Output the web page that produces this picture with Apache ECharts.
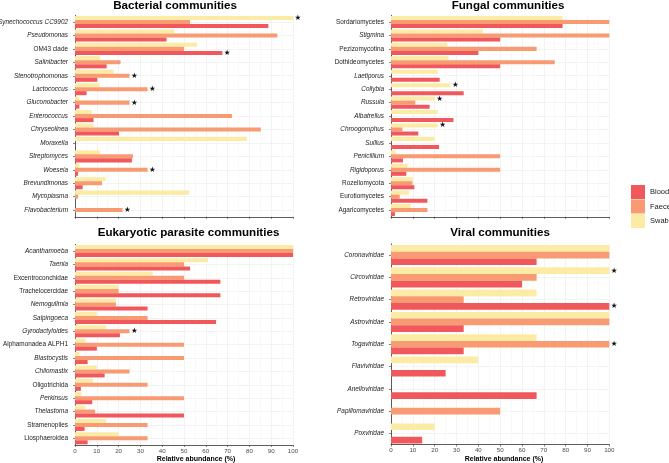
<!DOCTYPE html>
<html><head><meta charset="utf-8">
<script src="https://cdn.jsdelivr.net/npm/echarts@6/dist/echarts.min.js"></script>
<style>html,body{margin:0;padding:0;background:#fff}#c{width:669px;height:463px}</style>
</head><body><div id="c"></div>
<script>
// ---------- DATA ----------
const seriesNames = ['Swab', 'Faeces', 'Blood'];
const legendOrder = ['Blood', 'Faeces', 'Swab'];
const xTicks = [0, 10, 20, 30, 40, 50, 60, 70, 80, 90, 100];

const bacCats = ['Synechococcus CC9902','Pseudomonas','OM43 clade','Salinibacter','Stenotrophomonas','Lactococcus','Gluconobacter','Enterococcus','Chryseolinea','Moraxella','Streptomyces','Woeseia','Brevundimonas','Mycoplasma','Flavobacterium'];
const bacBlood  = [88.7, 42, 67.6, 14.5, 10.2, 5.3, 2, 8.5, 20.2, null, 26.1, 1.4, 3.5, null, null];
const bacFaeces = [52.8, 92.8, 50, 20.9, 25, 33.3, 25, 72, 85.2, null, 26.6, 33.3, 12.4, 1.4, 21.8];
const bacSwab   = [100, 45.5, 56, 11.5, 17.7, 11.3, 2, 7.6, 8.5, 78.8, 11.5, 2, 14, 52.4, null];
const bacStarsBlood  = ['OM43 clade'];
const bacStarsFaeces = ['Stenotrophomonas','Lactococcus','Gluconobacter','Woeseia','Flavobacterium'];
const bacStarsSwab   = ['Synechococcus CC9902'];

const funCats = ['Sordariomycetes','Stigmina','Pezizomycotina','Dothideomycetes','Laetiporus','Collybia','Russula','Albatrellus','Chroogomphus','Suillus','Penicillium','Rigidoporus','Rozellomycota','Eurotiomycetes','Agaricomycetes'];
const funBlood  = [78.6, 50, 40, 50, 22.3, 33.3, 17.7, 28.6, 12.5, 22, 5.5, 7, 10.7, 16.7, 1.8];
const funFaeces = [100, 100, 66.7, 75, null, null, 11.1, null, 5.2, null, 50, 50, 9.8, 4, 16.7];
const funSwab   = [78.6, 42.1, 25.8, 26.4, 21.4, 27.2, 20, 21.4, 21.4, 20, 2, 7.6, 10, 8.2, 9];
const funStarsBlood  = [];
const funStarsFaeces = [];
const funStarsSwab   = ['Collybia','Russula','Chroogomphus'];

const eukCats = ['Acanthamoeba','Taenia','Excentroconchidae','Trachelocercidae','Nemogullmia','Salpingoeca','Gyrodactyloides','Alphamonadea ALPH1','Blastocystis','Chilomastix','Oligotrichida','Perkinsus','Thelastoma','Stramenopiles','Liosphaeroidea'];
const eukBlood  = [100, 52.8, 66.7, 66.7, 33.3, 64.7, 20.6, 10, 5.8, 13.6, 2.7, 7.9, 50, 4.4, 5.8];
const eukFaeces = [100, 50, 50, 20, 18.8, 33.3, 25, 50, 50, 25, 33.3, 50, 9.2, 33.3, 33.3];
const eukSwab   = [100, 61, 35.6, 20, 18.8, 10, 14.2, 4.7, 2, 10, 8.2, 2.9, 4.7, 14.2, 20];
const eukStarsBlood  = [];
const eukStarsFaeces = ['Gyrodactyloides'];
const eukStarsSwab   = [];

const virCats = ['Coronaviridae','Circoviridae','Retroviridae','Astroviridae','Togaviridae','Flaviviridae','Anelloviridae','Papillomaviridae','Poxviridae'];
const virBlood  = [66.7, 60, 100, 33.3, 33.3, 25, 66.7, null, 14.3];
const virFaeces = [100, 66.7, 33.3, 100, 100, null, null, 50, null];
const virSwab   = [100, 100, 66.7, 100, 66.7, 40, null, null, 20];
const virStarsBlood  = ['Retroviridae'];
const virStarsFaeces = ['Togaviridae'];
const virStarsSwab   = ['Circoviridae'];

// taxa set in italics (genus / family names)
const italicNames = ['Synechococcus CC9902','Pseudomonas','Salinibacter','Stenotrophomonas','Lactococcus','Gluconobacter','Enterococcus','Chryseolinea','Moraxella','Streptomyces','Woeseia','Brevundimonas','Mycoplasma','Flavobacterium',
 'Stigmina','Laetiporus','Collybia','Russula','Albatrellus','Chroogomphus','Suillus','Penicillium','Rigidoporus',
 'Acanthamoeba','Taenia','Nemogullmia','Salpingoeca','Gyrodactyloides','Blastocystis','Chilomastix','Perkinsus','Thelastoma',
 'Coronaviridae','Circoviridae','Retroviridae','Astroviridae','Togaviridae','Flaviviridae','Anelloviridae','Papillomaviridae','Poxviridae'];

// ---------- STYLE / LAYOUT ----------
const COLORS = {Blood:'#F0585C', Faeces:'#F89B72', Swab:'#FCEBA5'};
const FONT = 'Liberation Sans, Arial, sans-serif';
const LBL = 6.4;
const panels = [
  {cats: bacCats, vals:{Blood:bacBlood, Faeces:bacFaeces, Swab:bacSwab}, stars:{Blood:bacStarsBlood, Faeces:bacStarsFaeces, Swab:bacStarsSwab},
   grid:{left:75, width:218, top:15.3, height:201.5}, showXLabels:false},
  {cats: funCats, vals:{Blood:funBlood, Faeces:funFaeces, Swab:funSwab}, stars:{Blood:funStarsBlood, Faeces:funStarsFaeces, Swab:funStarsSwab},
   grid:{left:391, width:218.3, top:15.3, height:201.5}, showXLabels:false},
  {cats: eukCats, vals:{Blood:eukBlood, Faeces:eukFaeces, Swab:eukSwab}, stars:{Blood:eukStarsBlood, Faeces:eukStarsFaeces, Swab:eukStarsSwab},
   grid:{left:75, width:218, top:244.3, height:200.7}, showXLabels:true},
  {cats: virCats, vals:{Blood:virBlood, Faeces:virFaeces, Swab:virSwab}, stars:{Blood:virStarsBlood, Faeces:virStarsFaeces, Swab:virStarsSwab},
   grid:{left:391, width:218.3, top:243.9, height:200.7}, showXLabels:true}
];

const grids = [], xAxes = [], yAxes = [], series = [];
panels.forEach((p, k) => {
  grids.push(Object.assign({containLabel:false, outerBoundsMode:'none'}, p.grid));
  xAxes.push({
    type:'value', gridIndex:k, min:0, max:100, interval:10,
    axisLine:{show:true, lineStyle:{color:'#333', width:0.8}},
    axisTick:{show:true, length:2, lineStyle:{color:'#333', width:0.6}},
    axisLabel:{show:p.showXLabels, fontSize:6.2, color:'#4D4D4D', margin:3, fontFamily:FONT,
      formatter: v => xTicks.includes(v) ? String(v) : ''},
    splitLine:{show:true, lineStyle:{color:'#EBEBEB', width:0.6}},
    minorTick:{show:false, splitNumber:2},
    minorSplitLine:{show:true, lineStyle:{color:'#F3F3F3', width:0.5}}
  });
  yAxes.push({
    type:'category', gridIndex:k, data:p.cats, inverse:true, offset:4,
    axisLine:{show:true, lineStyle:{color:'#333', width:0.8}},
    axisTick:{show:true, length:2, alignWithLabel:true, lineStyle:{color:'#333', width:0.6}},
    axisLabel:{fontSize:LBL, color:'#1A1A1A', margin:3, fontFamily:FONT, interval:0,
      formatter: v => italicNames.includes(v) ? '{i|' + v + '}' : '{n|' + v + '}',
      rich:{i:{fontStyle:'italic', fontSize:LBL, color:'#1A1A1A', fontFamily:FONT}, n:{fontSize:LBL, color:'#1A1A1A', fontFamily:FONT}}},
    splitLine:{show:true, alignWithLabel:true, lineStyle:{color:'#EBEBEB', width:0.6}}
  });
  seriesNames.forEach(name => {
    const data = p.vals[name].map((v, i) =>
      p.stars[name].includes(p.cats[i]) ? {value:v, label:{show:true}} : v);
    series.push({
      type:'bar', name, xAxisIndex:k, yAxisIndex:k, data,
      barGap:'0%', barCategoryGap:'10%',
      itemStyle:{color:COLORS[name]},
      label:{show:false, position:'right', distance:1.5, formatter:'★', color:'#111', fontSize:7.5, fontFamily:'DejaVu Sans'},
      emphasis:{disabled:true}, animation:false
    });
  });
});

const titleStyle = (text, x, y) => ({type:'text', x, y, style:{text, fill:'#000', font:'bold 11.6px ' + FONT, textAlign:'center', textVerticalAlign:'middle'}});
const axTitle = (text, x, y) => ({type:'text', x, y, style:{text, fill:'#000', font:'bold 7px ' + FONT, textAlign:'center', textVerticalAlign:'middle'}});

const option = {
  backgroundColor:'#fff', animation:false,
  grid:grids, xAxis:xAxes, yAxis:yAxes, series,
  legend:{data:legendOrder, orient:'vertical', left:631, top:185, padding:0, itemWidth:14, itemHeight:14, itemGap:0.5, icon:'rect',
    textStyle:{fontSize:7.5, color:'#1A1A1A', fontFamily:FONT}, selectedMode:false},
  graphic:[
    titleStyle('Bacterial communities', 175, 5.5),
    titleStyle('Fungal communities', 508, 5.5),
    titleStyle('Eukaryotic parasite communities', 188.5, 232.7),
    titleStyle('Viral communities', 500, 232.7),
    axTitle('Relative abundance (%)', 196, 459),
    axTitle('Relative abundance (%)', 504, 459)
  ]
};
const chart = echarts.init(document.getElementById('c'));
chart.setOption(option);
</script></body></html>
